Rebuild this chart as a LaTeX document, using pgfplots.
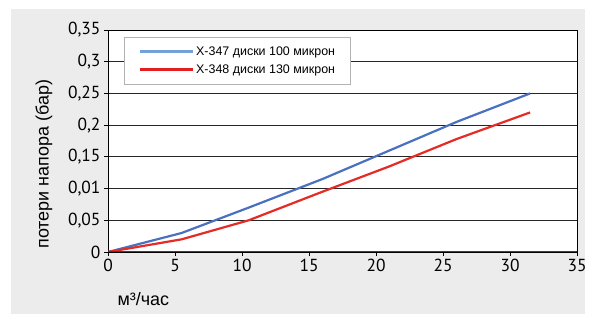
\documentclass[border=0pt]{standalone}
\usepackage{fontspec}
\setmainfont{Liberation Sans}
\newfontfamily\tickfont{PT Sans}
\usepackage{pgfplots}
\pgfplotsset{compat=1.18}
\definecolor{bgpanel}{HTML}{ECECEC}
\definecolor{blueline}{HTML}{4A70C0}
\definecolor{bluelegend}{HTML}{72A0DA}
\definecolor{redline}{HTML}{E52B26}
\definecolor{redlegend}{HTML}{E11F1F}
\begin{document}
\begin{tikzpicture}
\useasboundingbox (0,0) rectangle (595bp,314bp);
\fill[bgpanel] (11bp,0) rectangle (585bp,305bp);
\begin{axis}[
  at={(108bp,62bp)}, anchor=south west,
  scale only axis, width=469bp, height=222bp,
  xmin=0, xmax=35, ymin=0, ymax=0.35,
  xtick={0,5,10,15,20,25,30,35},
  ytick={0,0.05,0.1,0.15,0.2,0.25,0.3,0.35},
  yticklabels={0,{0,05},{0,01},{0,15},{0,2},{0,25},{0,3},{0,35}},
  /pgf/number format/assume math mode=true,
  tick label style={font=\tickfont\fontsize{17.5}{19}\selectfont, black},
  tick align=outside, major tick length=4bp,
  xtick pos=bottom, ytick pos=left,
  tick style={black, line width=0.8bp},
  ymajorgrids, grid style={black!85, line width=0.8bp},
  axis line style={black, line width=0.8bp},
  axis background/.style={fill=white},
  xlabel={м³/час},
  ylabel={потери напора (бар)},
  label style={font=\fontsize{18}{20}\selectfont},
  xlabel style={at={(axis description cs:0.0128,-0.214)}, anchor=west},
  ylabel style={at={(axis description cs:-0.1365,0.396)}, anchor=center},
  legend cell align=left,
  legend style={at={(axis description cs:0.034,0.970)}, anchor=north west,
    draw=black!30, line width=0.8bp, fill=white,
    font=\fontsize{12.5}{14}\selectfont,
    inner xsep=14bp, inner ysep=8bp, row sep=5bp,
    nodes={inner sep=1.5bp}},
]
\addplot[blueline, line width=2.2bp, line join=round,
  legend image code/.code={\draw[bluelegend, line width=3.3bp] (0bp,0bp) -- (53bp,0bp);}]
  coordinates {(0,0) (5.5,0.03) (10.5,0.07) (16,0.115) (21,0.16) (26,0.205) (31.5,0.25)};
\addlegendentry{X-347 диски 100 микрон}
\addplot[redline, line width=2.2bp, line join=round,
  legend image code/.code={\draw[redlegend, line width=3.3bp] (0bp,0bp) -- (53bp,0bp);}]
  coordinates {(0,0) (5.5,0.02) (10.5,0.05) (16,0.095) (21,0.135) (26,0.178) (31.5,0.22)};
\addlegendentry{X-348 диски 130 микрон}
\draw[black!75, line width=1.8bp] (rel axis cs:0,0) -- (rel axis cs:1,0);
\end{axis}
\end{tikzpicture}
\end{document}
